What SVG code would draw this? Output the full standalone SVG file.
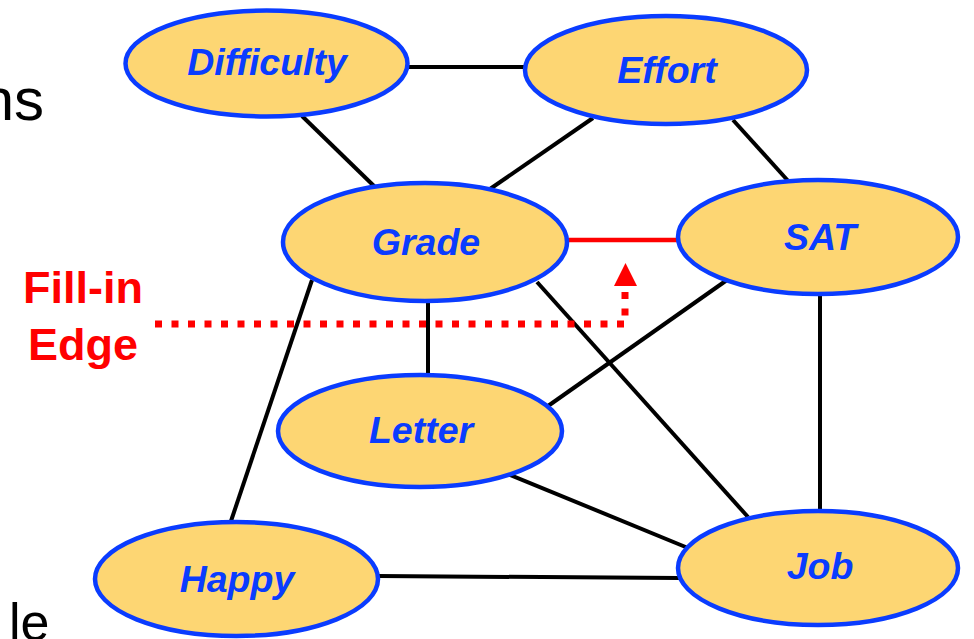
<svg xmlns="http://www.w3.org/2000/svg" width="974" height="639" viewBox="0 0 974 639">
<defs>
<style>
.node ellipse{fill:#FDD673;stroke:#0A3CFF;stroke-width:4.5}
.node text{font-family:"Liberation Sans",Arial,sans-serif;font-weight:bold;font-style:italic;font-size:37.5px;fill:#0A3CFF;text-anchor:middle}
.edge{stroke:#000;stroke-width:4;fill:none}
.red{font-family:"Liberation Sans",Arial,sans-serif;font-weight:bold;font-size:45px;fill:#FF0000;text-anchor:middle}
.slide{font-family:"Liberation Sans",Arial,sans-serif;font-size:60px;fill:#000}
</style>
</defs>
<rect width="974" height="639" fill="#fff"/>
<text class="slide" x="44" y="120" text-anchor="end">ns</text>
<text class="slide" x="9" y="640" style="font-size:52px">le</text>
<g id="connectors">
<line class="edge" x1="408" y1="67" x2="525" y2="67"/>
<line class="edge" x1="302" y1="116" x2="375" y2="187"/>
<line class="edge" x1="593" y1="118" x2="490" y2="189"/>
<line class="edge" x1="733" y1="120" x2="790" y2="183"/>
<line class="edge" x1="428" y1="302" x2="428" y2="376"/>
<line class="edge" x1="312" y1="280" x2="230" y2="524"/>
<line class="edge" x1="537" y1="282" x2="748" y2="517"/>
<line class="edge" x1="727" y1="280" x2="548" y2="406"/>
<line class="edge" x1="820" y1="294" x2="820" y2="511"/>
<line class="edge" x1="508" y1="474" x2="688" y2="548"/>
<line class="edge" x1="378" y1="576" x2="679" y2="578"/>
<line x1="567" y1="240" x2="685" y2="240" stroke="#FF0000" stroke-width="4.5"/>
<path d="M155,324 H625 V291" fill="none" stroke="#FF0000" stroke-width="7" stroke-dasharray="7 9.5"/>
<path d="M614,286 L637,286 L625.5,263 z" fill="#FF0000"/>
</g>
<g id="difficulty" class="node"><ellipse cx="266.5" cy="63.5" rx="141" ry="53"/><text x="267" y="75">Difficulty</text></g>
<g id="effort" class="node"><ellipse cx="666" cy="70" rx="141" ry="54"/><text x="667" y="83">Effort</text></g>
<g id="grade" class="node"><ellipse cx="425" cy="242" rx="142" ry="59"/><text x="426" y="255">Grade</text></g>
<g id="sat" class="node"><ellipse cx="818" cy="237" rx="140" ry="57"/><text x="820" y="250">SAT</text></g>
<g id="letter" class="node"><ellipse cx="420" cy="431" rx="142" ry="56"/><text x="421" y="443">Letter</text></g>
<g id="happy" class="node"><ellipse cx="236.5" cy="579" rx="141.5" ry="57"/><text x="237" y="592">Happy</text></g>
<g id="job" class="node"><ellipse cx="818" cy="568" rx="140" ry="57"/><text x="820" y="579">Job</text></g>
<g id="label">
<text class="red" x="83" y="303">Fill-in</text>
<text class="red" x="83" y="360">Edge</text>
</g>
</svg>
